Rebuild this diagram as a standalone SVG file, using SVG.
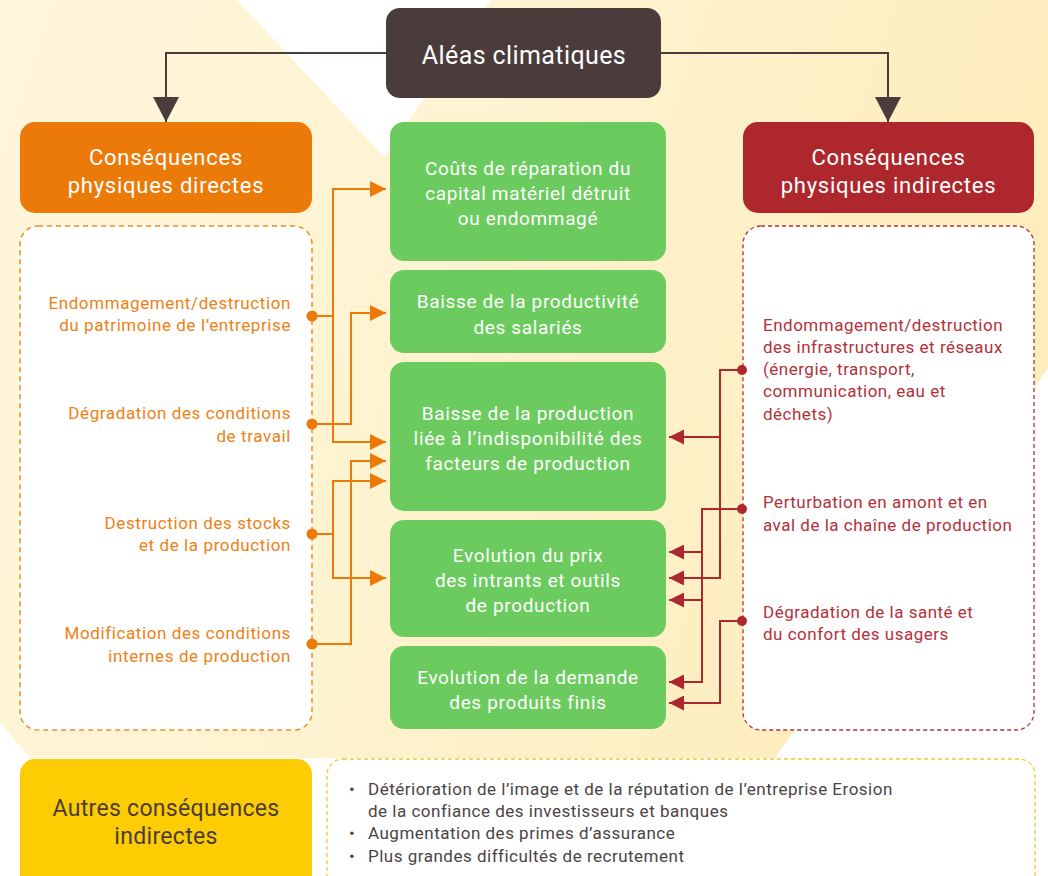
<svg xmlns="http://www.w3.org/2000/svg" width="1048" height="876" viewBox="0 0 1048 876">
<defs>
<linearGradient id="bg" x1="0" y1="0" x2="1" y2="0.25">
<stop offset="0" stop-color="#FFF6DC"/>
<stop offset="0.5" stop-color="#FEF3D0"/>
<stop offset="1" stop-color="#FEEDBC"/>
</linearGradient>
<marker id="aO" markerUnits="userSpaceOnUse" markerWidth="16" markerHeight="16" refX="16" refY="8" orient="auto"><path d="M0,0 L16,8 L0,16 z" fill="#EC7A08"/></marker>
<marker id="aR" markerUnits="userSpaceOnUse" markerWidth="15" markerHeight="15" refX="15" refY="7.5" orient="auto"><path d="M0,0 L15,7.5 L0,15 z" fill="#AE272D"/></marker>
<marker id="aD" markerUnits="userSpaceOnUse" markerWidth="26" markerHeight="26" refX="25" refY="13" orient="auto"><path d="M0,0 L25,13 L0,26 z" fill="#4A3C3B"/></marker>
</defs>
<style>
text{font-family:Roboto,"Liberation Sans",sans-serif}
.hd{fill:#fff;font-size:22px;letter-spacing:0.75px;text-anchor:middle}
.gb{fill:#6BCB5E}
.gt{fill:#fff;font-size:19px;letter-spacing:0.65px;text-anchor:middle}
.lt{fill:#EE7F14;font-size:17px;letter-spacing:0.6px;text-anchor:end}
.rt{fill:#B3313A;font-size:17px;letter-spacing:0.5px}
.bt{fill:#4a4444;font-size:17px;letter-spacing:0.5px}
.co{fill:none;stroke:#EC7A08;stroke-width:2}
.cr{fill:none;stroke:#AE272D;stroke-width:2}
.cd{fill:none;stroke:#4A3C3B;stroke-width:2}
</style>
<rect width="1048" height="876" fill="#fff"/>
<polygon points="0,0 237,0 384,157 491,0 1048,0 1048,368 775,758 30,758 0,722" fill="url(#bg)"/>

<g id="connectors">
<path class="cd" d="M386,53 H166 V122" marker-end="url(#aD)"/>
<path class="cd" d="M661,53 H888 V122" marker-end="url(#aD)"/>
<path class="co" d="M312,316 H333 V189 H386" marker-end="url(#aO)"/>
<path class="co" d="M333,316 V442 H386" marker-end="url(#aO)"/>
<path class="co" d="M312,424 H351 V313 H386" marker-end="url(#aO)"/>
<path class="co" d="M312,534 H333 V481 H386" marker-end="url(#aO)"/>
<path class="co" d="M333,534 V578 H386" marker-end="url(#aO)"/>
<path class="co" d="M312,644 H351 V461 H386" marker-end="url(#aO)"/>
<path class="cr" d="M742,370 H720 V437 H669" marker-end="url(#aR)"/>
<path class="cr" d="M720,437 V578 H669" marker-end="url(#aR)"/>
<path class="cr" d="M742,509 H702 V552 H669" marker-end="url(#aR)"/>
<path class="cr" d="M702,552 V600 H669" marker-end="url(#aR)"/>
<path class="cr" d="M702,600 V682 H669" marker-end="url(#aR)"/>
<path class="cr" d="M742,621 H720 V703 H669" marker-end="url(#aR)"/>
</g>

<g id="aleas">
<rect x="386" y="8" width="275" height="90" rx="14" fill="#4A3C3B"/>
<text x="524" y="64" fill="#fff" font-size="25" letter-spacing="0.4" text-anchor="middle">Aléas climatiques</text>
</g>

<g id="directes">
<rect x="20" y="122" width="292" height="91" rx="15" fill="#EC7A08"/>
<text class="hd" x="166" y="165">Conséquences</text>
<text class="hd" x="166" y="193">physiques directes</text>
</g>

<g id="indirectes">
<rect x="743" y="122" width="291" height="91" rx="15" fill="#AE272D"/>
<text class="hd" x="888.5" y="165">Conséquences</text>
<text class="hd" x="888.5" y="193">physiques indirectes</text>
</g>

<g id="liste-directes">
<rect x="20" y="226" width="292" height="504" rx="18" fill="#fff" stroke="#EF8A2A" stroke-width="1.5" stroke-dasharray="5 4"/>
<text class="lt" x="291" y="309">Endommagement/destruction</text>
<text class="lt" x="291" y="331">du patrimoine de l’entreprise</text>
<text class="lt" x="291" y="419">Dégradation des conditions</text>
<text class="lt" x="291" y="442">de travail</text>
<text class="lt" x="291" y="529">Destruction des stocks</text>
<text class="lt" x="291" y="551">et de la production</text>
<text class="lt" x="291" y="639">Modification des conditions</text>
<text class="lt" x="291" y="662">internes de production</text>
<circle cx="312" cy="316" r="5.5" fill="#EC7A08"/>
<circle cx="312" cy="424" r="5.5" fill="#EC7A08"/>
<circle cx="312" cy="534" r="5.5" fill="#EC7A08"/>
<circle cx="312" cy="644" r="5.5" fill="#EC7A08"/>
</g>

<g id="liste-indirectes">
<rect x="743" y="226" width="291" height="504" rx="18" fill="#fff" stroke="#B3313A" stroke-width="1.3" stroke-dasharray="4 3"/>
<text class="rt" x="763" y="331">Endommagement/destruction</text>
<text class="rt" x="763" y="353">des infrastructures et réseaux</text>
<text class="rt" x="763" y="375">(énergie, transport,</text>
<text class="rt" x="763" y="397">communication, eau et</text>
<text class="rt" x="763" y="420">déchets)</text>
<text class="rt" x="763" y="508">Perturbation en amont et en</text>
<text class="rt" x="763" y="531">aval de la chaîne de production</text>
<text class="rt" x="763" y="618">Dégradation de la santé et</text>
<text class="rt" x="763" y="640">du confort des usagers</text>
<circle cx="742" cy="370" r="5" fill="#AE272D"/>
<circle cx="742" cy="509" r="5" fill="#AE272D"/>
<circle cx="742" cy="621" r="5" fill="#AE272D"/>
</g>

<g id="couts">
<rect class="gb" x="390" y="122" width="276" height="139" rx="14"/>
<text class="gt" x="528" y="175">Coûts de réparation du</text>
<text class="gt" x="528" y="200">capital matériel détruit</text>
<text class="gt" x="528" y="225">ou endommagé</text>
</g>
<g id="productivite">
<rect class="gb" x="390" y="270" width="276" height="83" rx="14"/>
<text class="gt" x="528" y="307.5">Baisse de la productivité</text>
<text class="gt" x="528" y="333.5">des salariés</text>
</g>
<g id="production">
<rect class="gb" x="390" y="362" width="276" height="149" rx="14"/>
<text class="gt" x="528" y="419.5">Baisse de la production</text>
<text class="gt" x="528" y="444.5">liée à l’indisponibilité des</text>
<text class="gt" x="528" y="469.5">facteurs de production</text>
</g>
<g id="prix">
<rect class="gb" x="390" y="520" width="276" height="117" rx="14"/>
<text class="gt" x="528" y="561.5">Evolution du prix</text>
<text class="gt" x="528" y="586.5">des intrants et outils</text>
<text class="gt" x="528" y="611.5">de production</text>
</g>
<g id="demande">
<rect class="gb" x="390" y="646" width="276" height="83" rx="14"/>
<text class="gt" x="528" y="683.5">Evolution de la demande</text>
<text class="gt" x="528" y="708.5">des produits finis</text>
</g>

<g id="autres">
<rect x="20" y="759" width="292" height="140" rx="15" fill="#FECC02"/>
<text x="166" y="816" fill="#4A3C3B" font-size="23" letter-spacing="0.3" text-anchor="middle">Autres conséquences</text>
<text x="166" y="844" fill="#4A3C3B" font-size="23" letter-spacing="0.3" text-anchor="middle">indirectes</text>
</g>

<g id="autres-liste">
<rect x="327" y="759" width="708" height="140" rx="16" fill="#fff" stroke="#F5C730" stroke-width="1.3" stroke-dasharray="4 3"/>
<text class="bt" x="349" y="795">•</text>
<text class="bt" x="368" y="795">Détérioration de l’image et de la réputation de l’entreprise Erosion</text>
<text class="bt" x="368" y="817">de la confiance des investisseurs et banques</text>
<text class="bt" x="349" y="839">•</text>
<text class="bt" x="368" y="839">Augmentation des primes d’assurance</text>
<text class="bt" x="349" y="862">•</text>
<text class="bt" x="368" y="862">Plus grandes difficultés de recrutement</text>
</g>
</svg>
